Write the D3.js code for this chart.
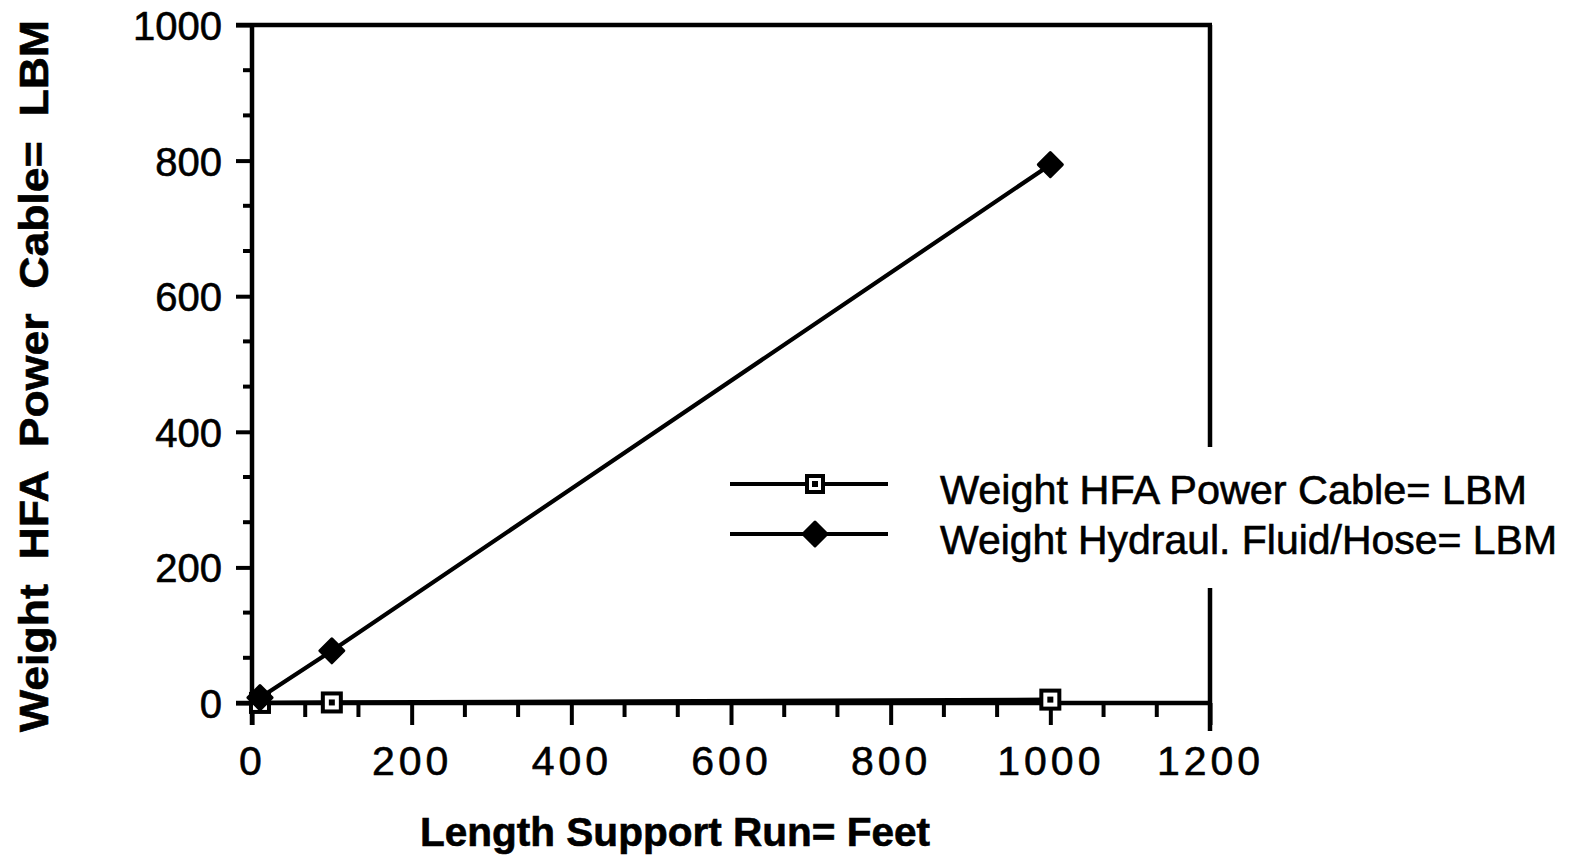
<!DOCTYPE html>
<html>
<head>
<meta charset="utf-8">
<script src="https://cdn.jsdelivr.net/npm/d3@7"></script>
<style>
  html, body { margin: 0; padding: 0; background: #fff; }
  svg { display: block; }
  text { font-family: "Liberation Sans", Arial, Helvetica, sans-serif; fill: #000; stroke: #000; stroke-width: 0.6px; }
</style>
</head>
<body>
<svg id="chart" width="1573" height="859"></svg>
<script>
// Support-run length (feet) and the weights carried along it (LBM)
const lengths = [10, 100, 1000];
const cableWeight = [0.1, 0.8, 5];
const hydraulicWeight = [7.9, 77, 794];

const seriesNames = ["Weight HFA Power Cable= LBM", "Weight Hydraul. Fluid/Hose= LBM"];
const xTickValues = [0, 200, 400, 600, 800, 1000, 1200];
const yTickValues = [0, 200, 400, 600, 800, 1000];
const xTitle = "Length Support Run= Feet";
const yTitle = "Weight  HFA  Power  Cable=  LBM";

const svg = d3.select("#chart");
const x = d3.scaleLinear().domain([0, 1200]).range([252, 1210]);
const y = d3.scaleLinear().domain([0, 1000]).range([703, 25]);

const ink = "#000";
const axisW = 4.5;
const tickW = 4;
const seriesW = 4.2;

// minor ticks: two between each labelled step
const minorX = d3.range(0, 1200.1, 200 / 3).filter(v => Math.abs(v / 200 - Math.round(v / 200)) > 1e-6);
const minorY = d3.range(0, 1000.1, 200 / 3).filter(v => Math.abs(v / 200 - Math.round(v / 200)) > 1e-6);

// frame: top and right edges
svg.append("line").attr("x1", x(0) - 16).attr("x2", x(1200) + 2)
  .attr("y1", y(1000)).attr("y2", y(1000)).attr("stroke", ink).attr("stroke-width", axisW);
svg.append("line").attr("x1", x(1200)).attr("x2", x(1200))
  .attr("y1", y(1000)).attr("y2", y(0)).attr("stroke", ink).attr("stroke-width", axisW);

// y axis
const yAxis = d3.axisLeft(y).tickValues(yTickValues).tickSize(16).tickPadding(14)
  .tickFormat(d3.format("d"));
const gy = svg.append("g").attr("transform", `translate(${x(0)},0)`).call(yAxis);
gy.select(".domain").remove();
gy.selectAll(".tick line").attr("stroke", ink).attr("stroke-width", tickW);
gy.selectAll(".tick text").attr("font-size", 40).attr("fill", ink).attr("dy", "0.36em");
gy.selectAll(".minor").data(minorY).join("line").attr("class", "minor")
  .attr("x1", -9).attr("x2", 0).attr("y1", d => y(d)).attr("y2", d => y(d))
  .attr("stroke", ink).attr("stroke-width", tickW);
svg.append("line").attr("x1", x(0)).attr("x2", x(0))
  .attr("y1", y(1000) - 2).attr("y2", y(0) + 22).attr("stroke", ink).attr("stroke-width", axisW);

// x axis
const xAxis = d3.axisBottom(x).tickValues(xTickValues).tickSize(22).tickPadding(21)
  .tickFormat(d3.format("d"));
const gx = svg.append("g").attr("transform", `translate(0,${y(0)})`).call(xAxis);
gx.select(".domain").remove();
gx.selectAll(".tick line").attr("stroke", ink).attr("stroke-width", tickW);
gx.selectAll(".tick text").attr("font-size", 41).attr("fill", ink)
  .attr("letter-spacing", "4px");
gx.selectAll(".minor").data(minorX).join("line").attr("class", "minor")
  .attr("y1", 0).attr("y2", 14).attr("x1", d => x(d)).attr("x2", d => x(d))
  .attr("stroke", ink).attr("stroke-width", tickW);
svg.append("line").attr("x1", x(0) - 16).attr("x2", x(1200) + 2)
  .attr("y1", y(0)).attr("y2", y(0)).attr("stroke", ink).attr("stroke-width", axisW);
svg.append("line").attr("x1", x(1200)).attr("x2", x(1200))
  .attr("y1", y(0)).attr("y2", y(0) + 28).attr("stroke", ink).attr("stroke-width", axisW);

// axis titles
svg.append("text").attr("x", 675).attr("y", 846).attr("text-anchor", "middle")
  .attr("font-size", 40).attr("font-weight", "bold")
  .attr("textLength", 510).attr("lengthAdjust", "spacingAndGlyphs")
  .style("white-space", "pre").text(xTitle);
svg.append("text").attr("transform", "translate(48,376) rotate(-90)")
  .attr("text-anchor", "middle").attr("font-size", 40).attr("font-weight", "bold")
  .attr("textLength", 712).attr("lengthAdjust", "spacingAndGlyphs")
  .style("white-space", "pre").text(yTitle);

// series lines
const line = d3.line().x(d => x(d[0])).y(d => y(d[1]));
const cablePts = lengths.map((l, i) => [l, cableWeight[i]]);
const hydPts = lengths.map((l, i) => [l, hydraulicWeight[i]]);

svg.append("path").datum(cablePts).attr("d", line)
  .attr("fill", "none").attr("stroke", ink).attr("stroke-width", seriesW);
svg.append("path").datum(hydPts).attr("d", line)
  .attr("fill", "none").attr("stroke", ink).attr("stroke-width", seriesW);

// markers
function squareMarker(g, cx, cy, s) {
  g.append("rect").attr("x", cx - s / 2).attr("y", cy - s / 2).attr("width", s).attr("height", s)
    .attr("fill", "#fff").attr("stroke", ink).attr("stroke-width", 4);
  g.append("rect").attr("x", cx - 3).attr("y", cy - 3).attr("width", 6).attr("height", 6)
    .attr("fill", ink);
}
function diamondMarker(g, cx, cy, r) {
  g.append("path").attr("d", `M${cx},${cy - r}L${cx + r},${cy}L${cx},${cy + r}L${cx - r},${cy}Z`)
    .attr("fill", ink).attr("stroke", ink).attr("stroke-width", 3).attr("stroke-linejoin", "round");
}

const mk = svg.append("g");
cablePts.forEach(p => squareMarker(mk, x(p[0]), y(p[1]), 18));
hydPts.forEach(p => diamondMarker(mk, x(p[0]), y(p[1]), 12));

// legend on a white panel
const lg = svg.append("g");
lg.append("rect").attr("x", 900).attr("y", 447).attr("width", 670).attr("height", 141).attr("fill", "#fff");
const legendRows = [484, 534];
legendRows.forEach((ly, i) => {
  lg.append("line").attr("x1", 730).attr("x2", 888).attr("y1", ly).attr("y2", ly)
    .attr("stroke", ink).attr("stroke-width", seriesW);
  if (i === 0) squareMarker(lg, 815, ly, 16); else diamondMarker(lg, 815, ly, 12);
  lg.append("text").attr("x", 940).attr("y", ly + 20).attr("font-size", 40)
    .attr("textLength", i === 0 ? 587 : 617).attr("lengthAdjust", "spacingAndGlyphs")
    .text(seriesNames[i]);
});
</script>
</body>
</html>
